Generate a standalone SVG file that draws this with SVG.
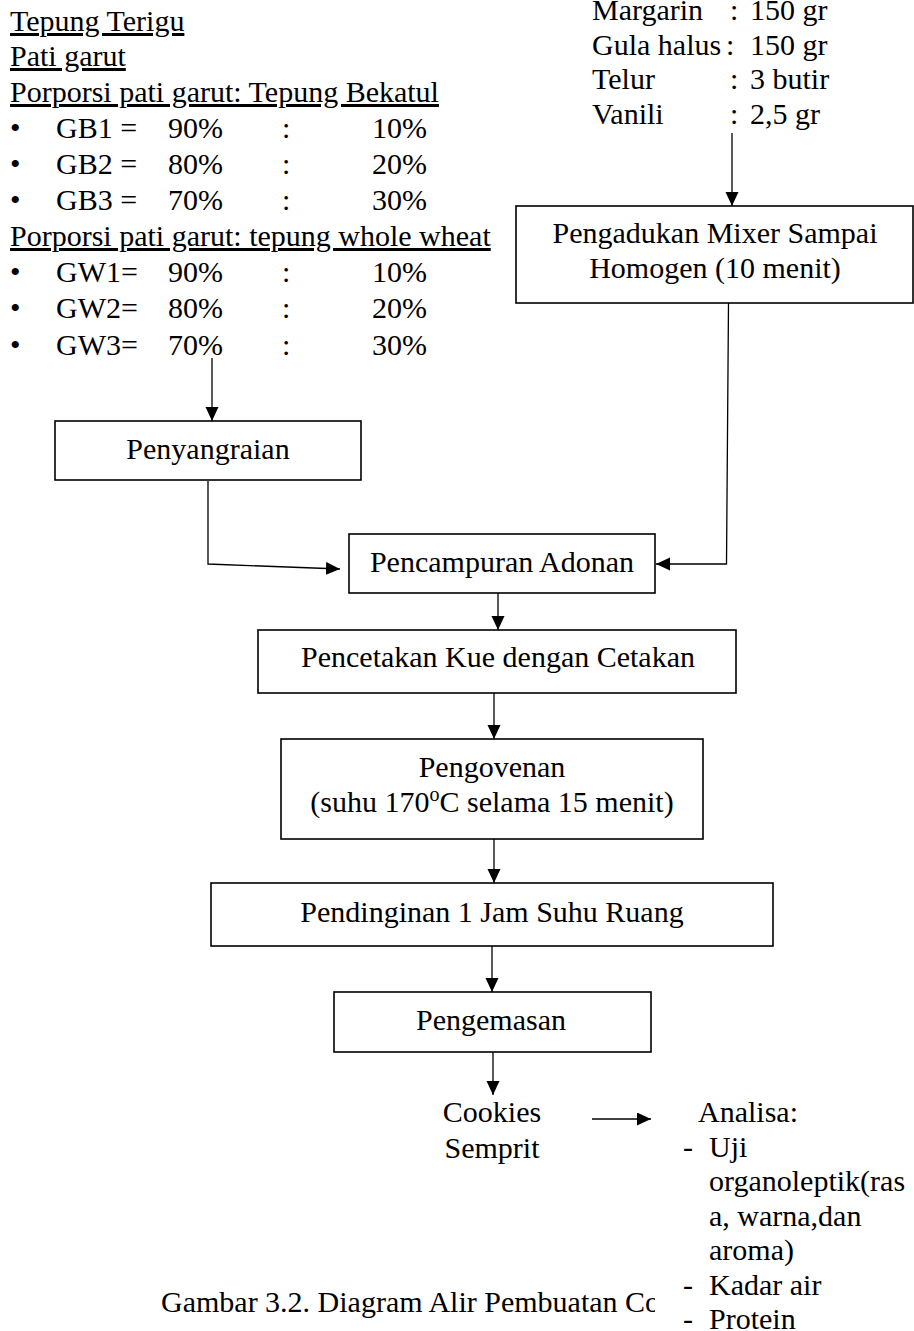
<svg xmlns="http://www.w3.org/2000/svg" width="914" height="1331" viewBox="0 0 914 1331" font-family="Liberation Serif, Times New Roman, serif" font-size="30">
<style>
text{font-family:'Liberation Serif','Times New Roman',Times,serif;font-size:30px;fill:#000}
.c{text-anchor:middle}
.u{text-decoration:underline}
.box{fill:#fff;stroke:#000;stroke-width:1.6}
.ln{fill:none;stroke:#000;stroke-width:1.3}
</style>
<defs>
<marker id="ah" markerUnits="userSpaceOnUse" markerWidth="15" markerHeight="14" refX="14" refY="6.5" orient="auto" viewBox="0 0 15 14">
<path d="M0,0 L14,6.5 L0,13 z" fill="#000"/>
</marker>
<clipPath id="capclip"><rect x="0" y="1270" width="655" height="61"/></clipPath>
</defs>
<rect width="914" height="1331" fill="#fff"/>

<g id="input-flour">
<text x="10" y="31" class="u">Tepung Terigu</text>
<text x="10" y="66" class="u">Pati garut</text>
<text x="10" y="102" class="u">Porporsi pati garut: Tepung Bekatul</text>
<text x="10" y="138">•</text><text x="56" y="138">GB1 =</text><text x="168" y="138">90%</text><text x="282" y="138">:</text><text x="372" y="138">10%</text>
<text x="10" y="174">•</text><text x="56" y="174">GB2 =</text><text x="168" y="174">80%</text><text x="282" y="174">:</text><text x="372" y="174">20%</text>
<text x="10" y="210">•</text><text x="56" y="210">GB3 =</text><text x="168" y="210">70%</text><text x="282" y="210">:</text><text x="372" y="210">30%</text>
<text x="10" y="246" class="u">Porporsi pati garut: tepung whole wheat</text>
<text x="10" y="282">•</text><text x="56" y="282">GW1=</text><text x="168" y="282">90%</text><text x="282" y="282">:</text><text x="372" y="282">10%</text>
<text x="10" y="318">•</text><text x="56" y="318">GW2=</text><text x="168" y="318">80%</text><text x="282" y="318">:</text><text x="372" y="318">20%</text>
<text x="10" y="355">•</text><text x="56" y="355">GW3=</text><text x="168" y="355">70%</text><text x="282" y="355">:</text><text x="372" y="355">30%</text>
</g>

<g id="input-other">
<text x="592" y="20">Margarin</text><text x="730" y="20">:</text><text x="750" y="20">150 gr</text>
<text x="592" y="55">Gula halus</text><text x="726" y="55">:</text><text x="750" y="55">150 gr</text>
<text x="592" y="89">Telur</text><text x="730" y="89">:</text><text x="750" y="89">3 butir</text>
<text x="592" y="124">Vanili</text><text x="730" y="124">:</text><text x="750" y="124">2,5 gr</text>
</g>

<g id="connectors">
<line class="ln" x1="732" y1="133" x2="732" y2="206" marker-end="url(#ah)"/>
<line class="ln" x1="212" y1="358" x2="212" y2="421" marker-end="url(#ah)"/>
<polyline class="ln" points="208,481 208,564 340,569" marker-end="url(#ah)"/>
<polyline class="ln" points="728.5,303 726.5,564 656,564" marker-end="url(#ah)"/>
<line class="ln" x1="498" y1="593" x2="498" y2="630" marker-end="url(#ah)"/>
<line class="ln" x1="494" y1="693" x2="494" y2="739" marker-end="url(#ah)"/>
<line class="ln" x1="494" y1="839" x2="494" y2="883" marker-end="url(#ah)"/>
<line class="ln" x1="492" y1="946" x2="492" y2="992" marker-end="url(#ah)"/>
<line class="ln" x1="493" y1="1052" x2="493" y2="1095" marker-end="url(#ah)"/>
<line class="ln" x1="592" y1="1119" x2="651" y2="1119" marker-end="url(#ah)"/>
</g>

<g id="mixer">
<rect class="box" x="516" y="206" width="397" height="97"/>
<text x="715" y="243" class="c">Pengadukan Mixer Sampai</text>
<text x="715" y="278" class="c">Homogen (10 menit)</text>
</g>

<g id="penyangraian">
<rect class="box" x="55" y="421" width="306" height="59"/>
<text x="208" y="459" class="c">Penyangraian</text>
</g>

<g id="pencampuran">
<rect class="box" x="349" y="534" width="306" height="59"/>
<text x="502" y="572" class="c">Pencampuran Adonan</text>
</g>

<g id="pencetakan">
<rect class="box" x="258" y="630" width="478" height="63"/>
<text x="498" y="667" class="c">Pencetakan Kue dengan Cetakan</text>
</g>

<g id="pengovenan">
<rect class="box" x="281" y="739" width="422" height="100"/>
<text x="492" y="777" class="c">Pengovenan</text>
<text x="492" y="812" class="c">(suhu 170<tspan font-size="20" dy="-11">o</tspan><tspan dy="11">C selama 15 menit)</tspan></text>
</g>

<g id="pendinginan">
<rect class="box" x="211" y="883" width="562" height="63"/>
<text x="492" y="922" class="c">Pendinginan 1 Jam Suhu Ruang</text>
</g>

<g id="pengemasan">
<rect class="box" x="334" y="992" width="317" height="60"/>
<text x="491" y="1030" class="c">Pengemasan</text>
</g>

<g id="cookies">
<text x="492" y="1122" class="c">Cookies</text>
<text x="492" y="1158" class="c">Semprit</text>
</g>

<g id="analisa">
<text x="698" y="1122">Analisa:</text>
<text x="683" y="1157">-</text><text x="709" y="1157">Uji</text>
<text x="709" y="1191">organoleptik(ras</text>
<text x="709" y="1226">a, warna,dan</text>
<text x="709" y="1260">aroma)</text>
<text x="683" y="1295">-</text><text x="709" y="1295">Kadar air</text>
<text x="683" y="1329">-</text><text x="709" y="1329">Protein</text>
</g>

<g id="caption" clip-path="url(#capclip)">
<text x="161" y="1312">Gambar 3.2. Diagram Alir Pembuatan Co</text>
</g>
</svg>
